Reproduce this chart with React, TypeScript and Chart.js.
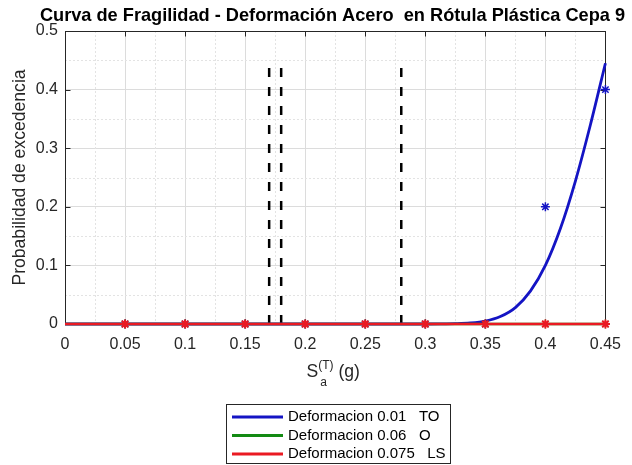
import React, { useEffect, useRef } from "react";
import { Chart, registerables } from "chart.js";

Chart.register(...registerables);

const TITLE = "Curva de Fragilidad - Deformación Acero  en Rótula Plástica Cepa 9";
const Y_TITLE = "Probabilidad de excedencia";
const X_TICKS = [0, 0.05, 0.1, 0.15, 0.2, 0.25, 0.3, 0.35, 0.4, 0.45];
const Y_TICKS = [0, 0.1, 0.2, 0.3, 0.4, 0.5];
const X_MINOR = [0.025, 0.075, 0.125, 0.175, 0.225, 0.275, 0.325, 0.375, 0.425];
const Y_MINOR = [0.05, 0.15, 0.25, 0.35, 0.45];

// fitted curve (TO)
const CURVE_X = [0, 0.05, 0.1, 0.15, 0.2, 0.25, 0.3, 0.3125, 0.325, 0.3375, 0.35, 0.3625, 0.375, 0.3875, 0.4, 0.4125, 0.425, 0.4375, 0.45];
const CURVE_TO = [0, 0, 0, 0, 0, 0, 0, 0.0001, 0.0005, 0.0017, 0.005, 0.0127, 0.028, 0.056, 0.1, 0.163, 0.244, 0.34, 0.445];

// observed points
const SA_POINTS = [0, 0.05, 0.1, 0.15, 0.2, 0.25, 0.3, 0.35, 0.4, 0.45];
const OBS_TO = [0, 0, 0, 0, 0, 0, 0, 0, 0.2, 0.4];
const CURVE_O = [0, 0, 0, 0, 0, 0, 0, 0, 0, 0];
const CURVE_LS = [0, 0, 0, 0, 0, 0, 0, 0, 0, 0];

// vertical dashed thresholds
const THRESHOLDS = [0.17, 0.18, 0.28];
const THRESHOLD_TOP = 0.44;

const LEGEND_LABELS = ["Deformacion 0.01   TO", "Deformacion 0.06   O", "Deformacion 0.075   LS"];
const BLUE = "#1414c4";
const GREEN = "#138a13";
const RED = "#ea1a22";
const AXIS = "#262626";
const FONT = "'Liberation Sans', Arial, sans-serif";

const zip = (xs: number[], ys: number[]) => xs.map((x, i) => ({ x, y: ys[i] }));

const decor = {
  id: "decor",
  beforeDatasetsDraw(chart: any) {
    const { ctx, chartArea: a, scales } = chart;
    const xs = scales.x, ys = scales.y;
    ctx.save();
    ctx.strokeStyle = "#e3e3e3";
    ctx.lineWidth = 1;
    ctx.setLineDash([2, 2]);
    X_MINOR.forEach((v) => {
      const px = Math.round(xs.getPixelForValue(v)) + 0.5;
      ctx.beginPath(); ctx.moveTo(px, a.top); ctx.lineTo(px, a.bottom); ctx.stroke();
    });
    Y_MINOR.forEach((v) => {
      const py = Math.round(ys.getPixelForValue(v)) + 0.5;
      ctx.beginPath(); ctx.moveTo(a.left, py); ctx.lineTo(a.right, py); ctx.stroke();
    });
    ctx.setLineDash([]);
    // box
    ctx.strokeStyle = AXIS;
    ctx.lineWidth = 1;
    const L = Math.round(a.left) + 0.5, R = Math.round(a.right) + 0.5;
    const T = Math.round(a.top) + 0.5, B = Math.round(a.bottom) + 0.5;
    ctx.strokeRect(L, T, R - L, B - T);
    // inside ticks
    const tl = 5;
    X_TICKS.forEach((v) => {
      const px = Math.round(xs.getPixelForValue(v)) + 0.5;
      ctx.beginPath();
      ctx.moveTo(px, B); ctx.lineTo(px, B - tl);
      ctx.moveTo(px, T); ctx.lineTo(px, T + tl);
      ctx.stroke();
    });
    Y_TICKS.forEach((v) => {
      const py = Math.round(ys.getPixelForValue(v)) + 0.5;
      ctx.beginPath();
      ctx.moveTo(L, py); ctx.lineTo(L + tl, py);
      ctx.moveTo(R, py); ctx.lineTo(R - tl, py);
      ctx.stroke();
    });
    ctx.restore();
  },
  afterDraw(chart: any) {
    const { ctx, chartArea: a } = chart;
    ctx.save();
    // title
    ctx.fillStyle = "#000";
    ctx.font = `bold 18.2px ${FONT}`;
    ctx.textAlign = "center";
    ctx.textBaseline = "alphabetic";
    ctx.fillText(TITLE, 332.5, 21.3);
    // x axis label  S_a^(T) (g)
    ctx.fillStyle = AXIS;
    ctx.textAlign = "left";
    const cx = (a.left + a.right) / 2;
    const base = 377;
    ctx.font = `17.6px ${FONT}`;
    const sW = ctx.measureText("S").width;
    ctx.font = `12px ${FONT}`;
    const supW = ctx.measureText("(T)").width;
    ctx.font = `17.6px ${FONT}`;
    const gW = ctx.measureText(" (g)").width;
    const total = sW + supW + gW;
    const x0 = cx - 2 - total / 2;
    ctx.fillText("S", x0, base);
    ctx.font = `12px ${FONT}`;
    ctx.fillText("(T)", x0 + sW, base - 8);
    ctx.fillText("a", x0 + sW + 2, base + 9);
    ctx.font = `17.6px ${FONT}`;
    ctx.fillText(" (g)", x0 + sW + supW, base);
    // legend
    const lx = 226.5, ly = 404.5, lw = 224, lh = 59;
    ctx.fillStyle = "#fff";
    ctx.fillRect(lx, ly, lw, lh);
    ctx.strokeStyle = AXIS;
    ctx.lineWidth = 1;
    ctx.strokeRect(lx, ly, lw, lh);
    const cols = [BLUE, GREEN, RED];
    ctx.font = `15px ${FONT}`;
    ctx.textBaseline = "middle";
    LEGEND_LABELS.forEach((lab, i) => {
      const y = 417 + i * 18.5;
      ctx.strokeStyle = cols[i];
      ctx.lineWidth = 3;
      ctx.beginPath(); ctx.moveTo(232, y); ctx.lineTo(283, y); ctx.stroke();
      ctx.fillStyle = "#000";
      ctx.fillText(lab, 288, y);
    });
    ctx.restore();
  },
};

export default function App() {
  const ref = useRef<HTMLCanvasElement>(null);
  useEffect(() => {
    const starPts = (data: number[], color: string, order: number, label: string, show: boolean, bw: number) => ({
      type: "line" as const,
      label,
      data: zip(SA_POINTS, data),
      showLine: show,
      borderColor: color,
      borderWidth: 2.6,
      pointStyle: "star",
      pointRadius: (c: any) => (c.raw && c.raw.x === 0 ? 0 : 4.5),
      pointBorderWidth: bw,
      pointBorderColor: color,
      pointBackgroundColor: color,
      clip: false as any,
      order,
    });
    const datasets: any[] = [
      starPts(CURVE_LS, RED, 1, LEGEND_LABELS[2], true, 2),
      starPts(CURVE_O, GREEN, 2, LEGEND_LABELS[1], true, 1),
      starPts(OBS_TO, BLUE, 3, "obs TO", false, 1.5),
      {
        type: "line",
        label: LEGEND_LABELS[0],
        data: zip(CURVE_X, CURVE_TO),
        borderColor: BLUE,
        borderWidth: 2.8,
        pointRadius: 0,
        cubicInterpolationMode: "monotone",
        clip: false,
        order: 4,
      },
      ...THRESHOLDS.map((t, i) => ({
        type: "line",
        label: "umbral " + t,
        data: [{ x: t, y: 0 }, { x: t, y: THRESHOLD_TOP }],
        borderColor: "#000",
        borderWidth: 2.5,
        borderDash: [9, 10],
        pointRadius: 0,
        clip: false,
        order: 5 + i,
      })),
    ];
    const chart = new Chart(ref.current!, {
      type: "line",
      data: { datasets },
      plugins: [decor],
      options: {
        animation: false,
        responsive: false,
        devicePixelRatio: 1,
        layout: { padding: { top: 31, right: 25, left: 0, bottom: 0 } },
        plugins: { legend: { display: false }, tooltip: { enabled: false }, title: { display: false } },
        scales: {
          x: {
            type: "linear",
            min: 0,
            max: 0.45,
            afterFit: (s: any) => { s.height = 141; },
            afterBuildTicks: (s: any) => { s.ticks = X_TICKS.map((v) => ({ value: v })); },
            ticks: {
              color: AXIS,
              font: { family: FONT, size: 16 },
              padding: 11,
              maxRotation: 0,
              autoSkip: false,
              callback: (v: any) => String(+Number(v).toFixed(3)),
            },
            grid: { color: "#dcdcdc", drawTicks: false },
            border: { display: false },
          },
          y: {
            type: "linear",
            min: 0,
            max: 0.5,
            afterFit: (s: any) => { s.width = 65; },
            afterBuildTicks: (s: any) => { s.ticks = Y_TICKS.map((v) => ({ value: v })); },
            ticks: {
              color: AXIS,
              font: { family: FONT, size: 16 },
              padding: 7,
              autoSkip: false,
              callback: (v: any) => String(+Number(v).toFixed(3)),
            },
            grid: { color: "#dcdcdc", drawTicks: false },
            border: { display: false },
            title: {
              display: true,
              text: Y_TITLE,
              color: AXIS,
              font: { family: FONT, size: 17.6 },
              padding: { top: 10, bottom: 0 },
            },
          },
        },
      },
    } as any);
    return () => chart.destroy();
  }, []);
  return (
    <div style={{ position: "absolute", left: 0, top: 0, width: 632, height: 465, background: "#fff" }}>
      <canvas ref={ref} width={632} height={465} />
    </div>
  );
}
